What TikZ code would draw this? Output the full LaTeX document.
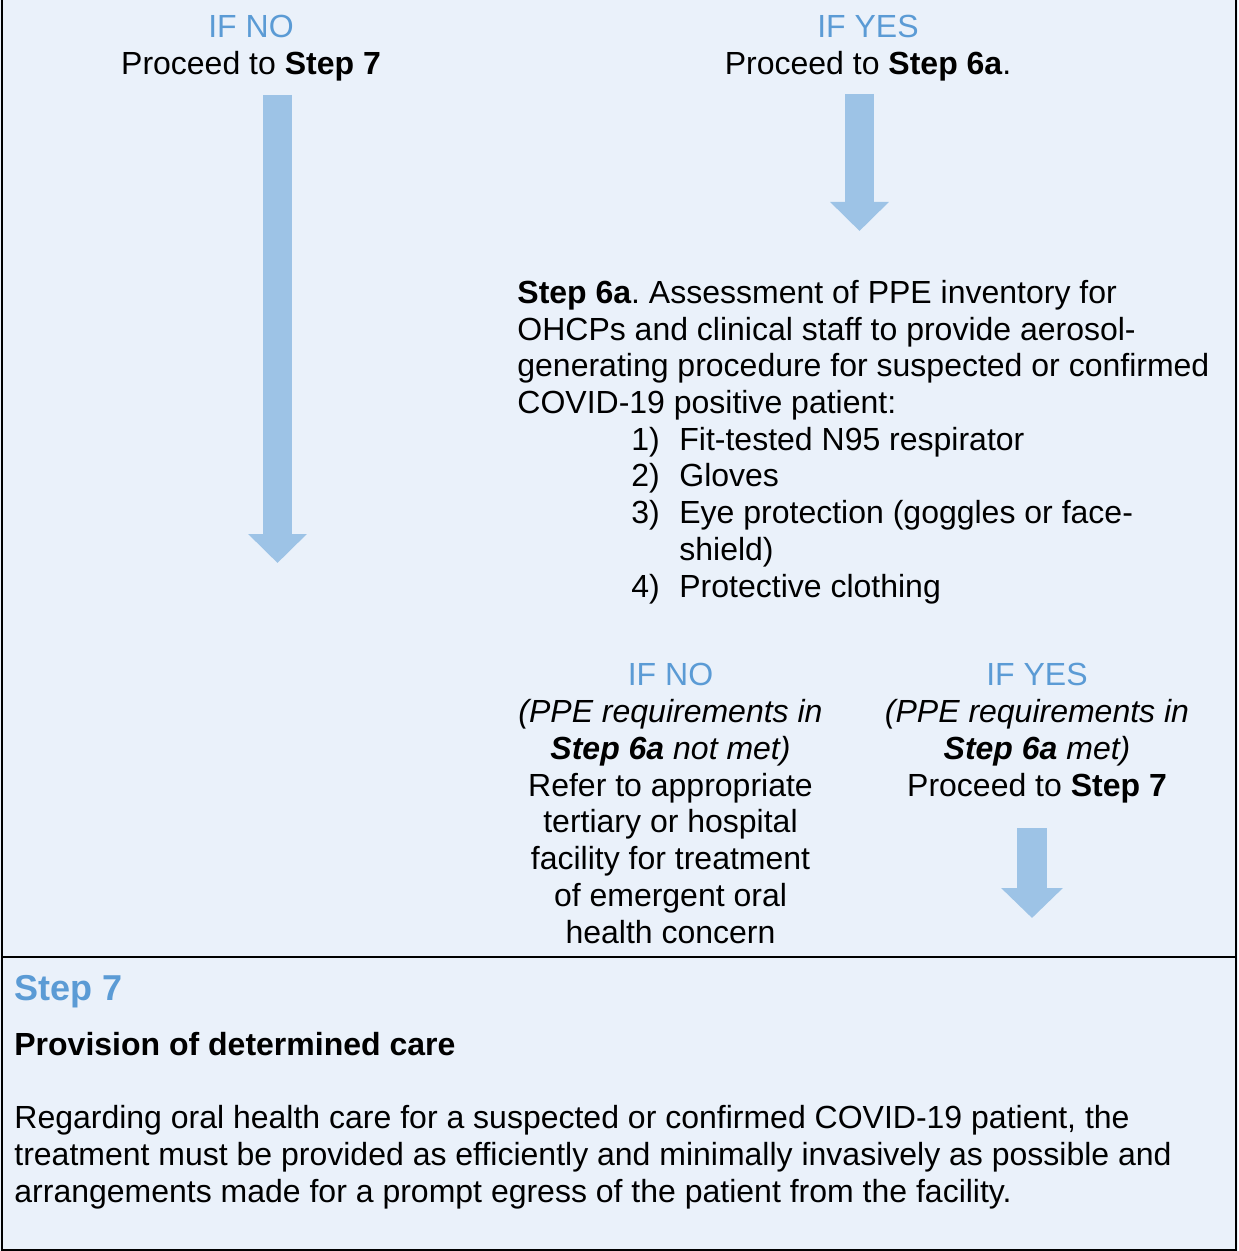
\documentclass[tikz,border=0pt]{standalone}
\usepackage{fontspec}
\setmainfont{Liberation Sans}
\usetikzlibrary{arrows.meta}
\frenchspacing
\definecolor{bgblue}{HTML}{EAF1FA}
\definecolor{arrblue}{HTML}{9DC3E6}
\definecolor{ifblue}{HTML}{5B9BD5}
\tikzset{
  txt/.style={font=\fontsize{16}{18.35}\selectfont, inner sep=0pt, align=center, anchor=base},
  iftxt/.style={txt, text=ifblue},
  bigarrow/.style={arrblue, line width=14.5pt, -{Triangle[width=28.5pt,length=14.5pt]}},
}
\def\stepsix{\textbf{Step 6a}}

\begin{document}
\begin{tikzpicture}[x=0.5pt,y=-0.5pt]
%\draw [help lines,step=100] (0,0) grid (1238,1251);
\useasboundingbox (0,0) rectangle (1238,1251);
\fill [bgblue] (0,0) rectangle (1238,1251);
\draw [line width=1pt] (2,0)--(2,1250)--(1236,1250)--(1236,0);
\draw [line width=1pt] (2,957)--(1236,957);
% top row
\node (ifnoA) [iftxt] at (251,38) {IF NO};
\node (goA) [txt] at (251,75) {Proceed to \textbf{Step 7}};
\node (ifyesA) [iftxt] at (868,38) {IF YES};
\node (goB) [txt] at (868,75) {Proceed to \stepsix.};
\coordinate (arrAs) at (277.5,95);
\coordinate (arrAe) at (277.5,563);
\draw [bigarrow] (arrAs)--(arrAe);
\coordinate (arrBs) at (859.5,94);
\coordinate (arrBe) at (859.5,231);
\draw [bigarrow] (arrBs)--(arrBe);
% step 6a (multi-line nodes: base = last line)
\node (six) [txt, align=left, anchor=base west] at (517,597) {\stepsix. Assessment of PPE inventory for\\
OHCPs and clinical staff to provide aerosol-\\
generating procedure for suspected or confirmed\\
COVID-19 positive patient:\\
\hspace*{57pt}\makebox[24pt][l]{1)}Fit-tested N95 respirator\\
\hspace*{57pt}\makebox[24pt][l]{2)}Gloves\\
\hspace*{57pt}\makebox[24pt][l]{3)}Eye protection (goggles or face-\\
\hspace*{81pt}shield)\\
\hspace*{57pt}\makebox[24pt][l]{4)}Protective clothing};
% second split
\node (ifnoB) [iftxt] at (670.5,685) {IF NO};
\node (refer) [txt] at (670.5,943) {\textit{(PPE requirements in}\\
\textit{\textbf{Step 6a} not met)}\\
Refer to appropriate\\
tertiary or hospital\\
facility for treatment\\
of emergent oral\\
health concern};
\node (ifyesB) [iftxt] at (1037,685) {IF YES};
\node (goC) [txt] at (1037,796) {\textit{(PPE requirements in}\\
\textit{\textbf{Step 6a} met)}\\
Proceed to \textbf{Step 7}};
\coordinate (arrCs) at (1032,828);
\coordinate (arrCe) at (1032,918);
\draw [bigarrow, line width=15pt, -{Triangle[width=30pt,length=15pt]}] (arrCs)--(arrCe);
% step 7
\node (seven) [txt, anchor=base west, text=ifblue, font=\fontsize{18}{20}\selectfont\bfseries] at (14,1000) {Step 7};
\node (prov) [txt, anchor=base west, font=\fontsize{16}{18.35}\selectfont\bfseries] at (14,1055) {Provision of determined care};
\node (care) [txt, align=left, anchor=base west] at (14,1202) {Regarding oral health care for a suspected or confirmed COVID-19 patient, the\\
treatment must be provided as efficiently and minimally invasively as possible and\\
arrangements made for a prompt egress of the patient from the facility.};
\end{tikzpicture}
\end{document}
